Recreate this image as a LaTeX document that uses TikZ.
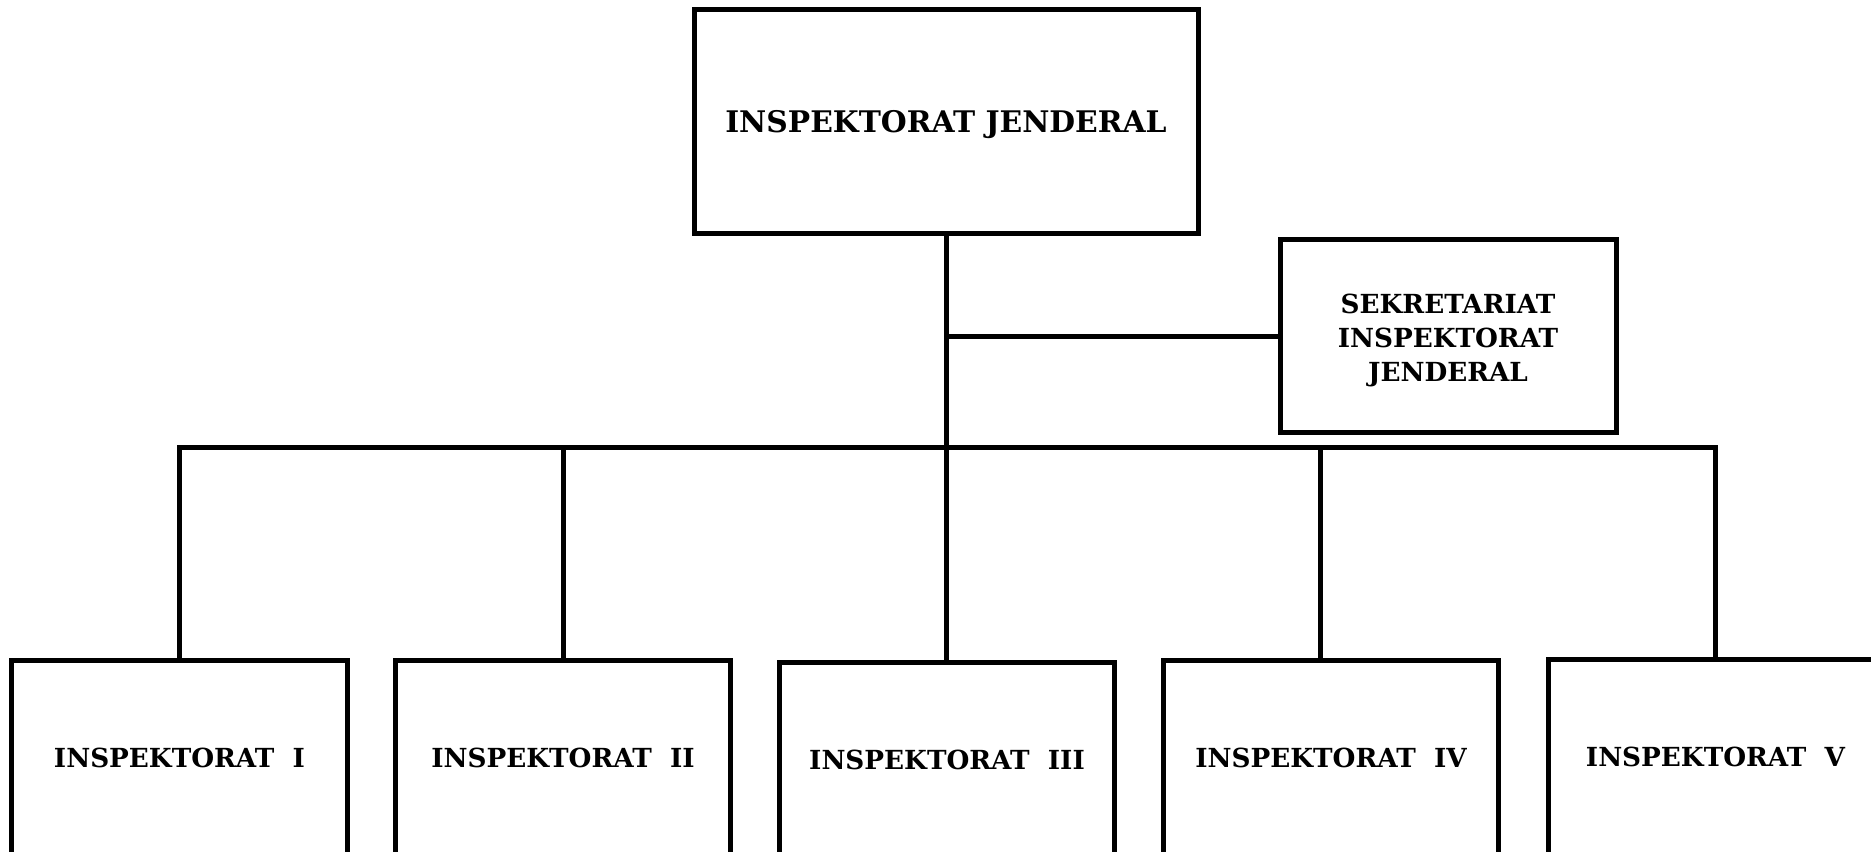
\documentclass[tikz,border=0pt]{standalone}
\usepackage{fontspec}
\setmainfont{DejaVu Serif}
\begin{document}
\begin{tikzpicture}[x=0.4pt,y=-0.4pt,
  box/.style={draw=black,line width=2pt,fill=white,align=center,inner sep=0pt,
    font=\fontsize{10.5}{13.6}\selectfont\bfseries},
  unit/.style={box,minimum width=134pt,minimum height=78.4pt},
  link/.style={draw=black,line width=2pt}]
\useasboundingbox (0,0) rectangle (1871,852);
\clip (0,0) rectangle (1871,852);
\fill[white] (0,0) rectangle (1871,852);
\node[box,minimum width=201.6pt,minimum height=89.2pt] (top) at (946,121.5) {};
\node[font=\fontsize{11.9}{14}\selectfont\bfseries,inner sep=0pt] (toptext) at (946,125) {INSPEKTORAT JENDERAL};
\node[box,minimum width=134.4pt,minimum height=76.8pt] (sek) at (1448,336) {};
\node[box,draw=none,fill=none] (sektext) at (1448,340) {SEKRETARIAT\\INSPEKTORAT\\JENDERAL};
\node[unit] (i1) at (179.5,758) {INSPEKTORAT\ \ I};
\node[unit] (i2) at (563,758) {INSPEKTORAT\ \ II};
\node[unit] (i3) at (947,760) {INSPEKTORAT\ \ III};
\node[unit] (i4) at (1331,758) {INSPEKTORAT\ \ IV};
\node[unit] (i5) at (1715.5,757) {INSPEKTORAT\ \ V};
\coordinate (bus) at (946,447);
\coordinate (d4) at (1320,660);
\draw[link] (top.south) -- (top.south |- i3.north);
\draw[link] (top.south |- sek.west) -- (sek.west);
\draw[link] (i1.north) -- (i1.north |- bus) -- (i5.north |- bus) -- (i5.north);
\draw[link] (i2.north) -- (i2.north |- bus);
\draw[link] (d4) -- (d4 |- bus);
\end{tikzpicture}
\end{document}
